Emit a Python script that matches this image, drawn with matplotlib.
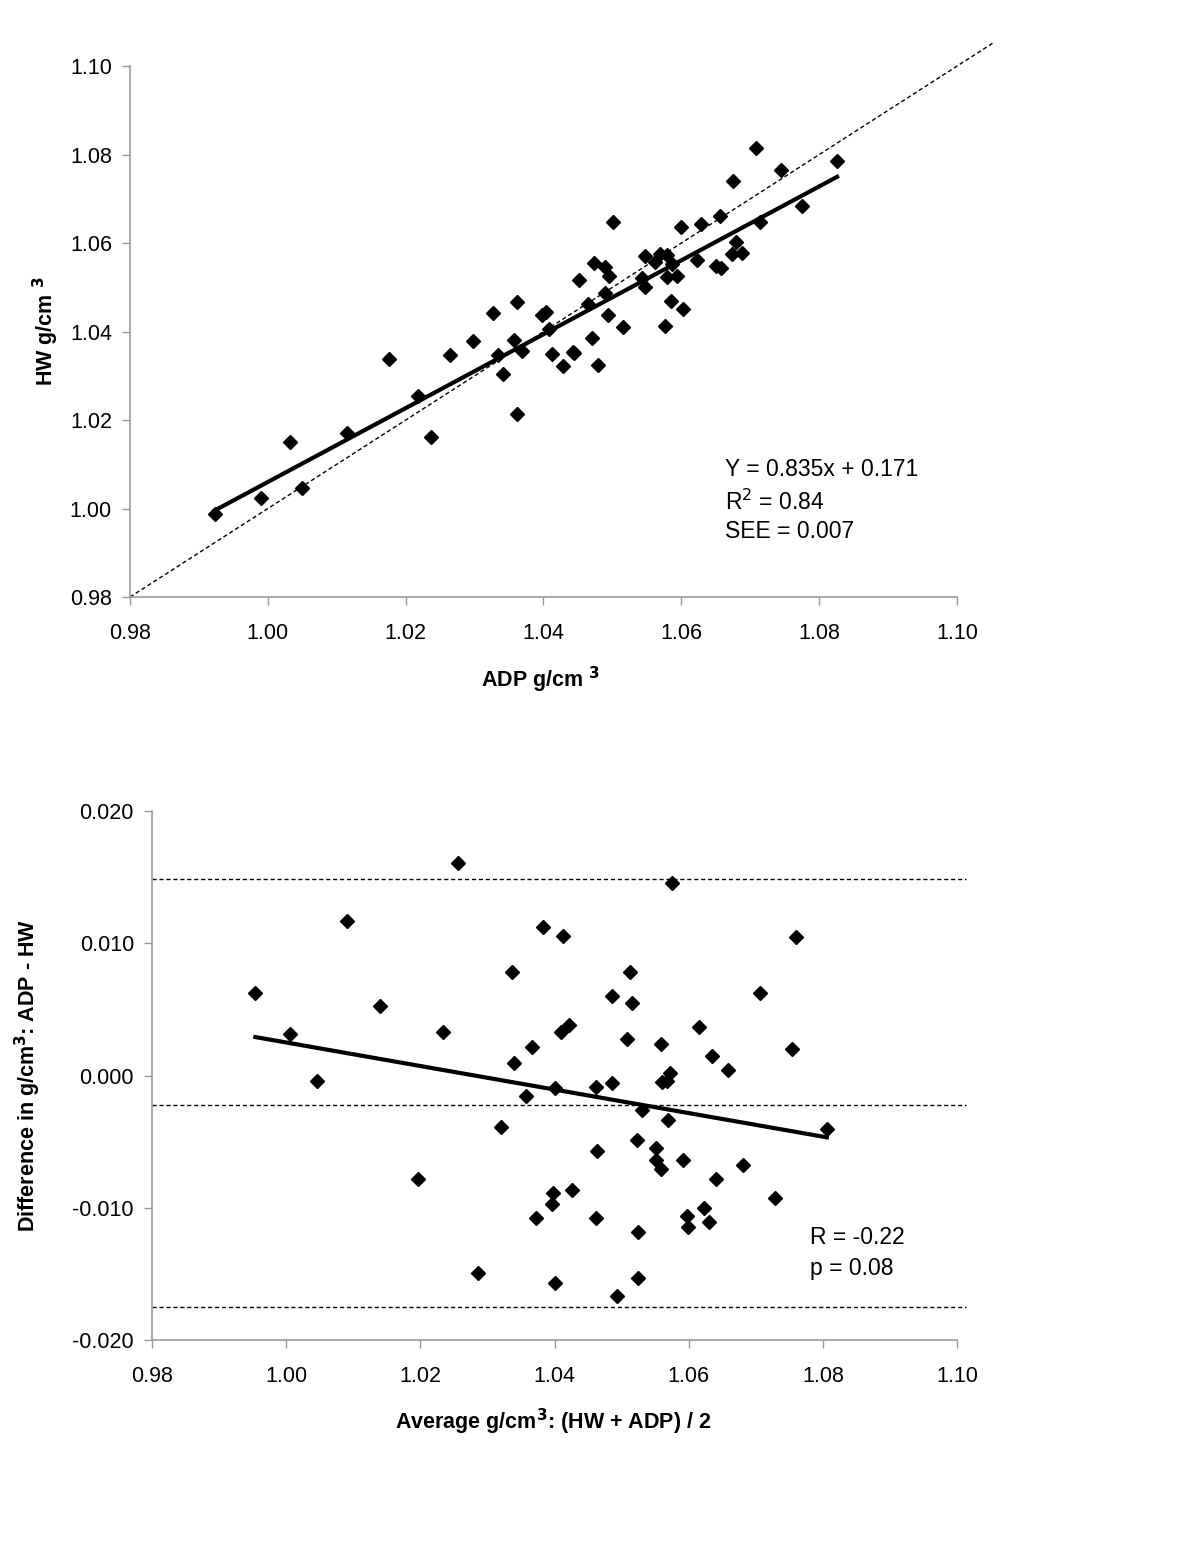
import matplotlib.pyplot as plt

plt.rcParams['font.family'] = ['Liberation Sans', 'DejaVu Sans']

# ---- top panel: HW vs ADP ----
adp = [0.9923, 0.9990, 1.0032, 1.0050, 1.0115, 1.0176, 1.0218, 1.0237, 1.0265, 1.0298,
       1.0327, 1.0334, 1.0341, 1.0362, 1.0357, 1.0369, 1.0362, 1.0398, 1.0404, 1.0408,
       1.0413, 1.0429, 1.0443, 1.0444, 1.0452, 1.0465, 1.0471, 1.0473, 1.0479, 1.0489,
       1.0495, 1.0489, 1.0494, 1.0501, 1.0516, 1.0543, 1.0548, 1.0548, 1.0562, 1.0569,
       1.0579, 1.0587, 1.0579, 1.0594, 1.0577, 1.0585, 1.0603, 1.0600, 1.0623, 1.0629,
       1.0651, 1.0658, 1.0656, 1.0674, 1.0688, 1.0680, 1.0675, 1.0709, 1.0714, 1.0745,
       1.0775, 1.0826]
hw = [0.9988, 1.0024, 1.0150, 1.0046, 1.0171, 1.0338, 1.0254, 1.0162, 1.0347, 1.0379,
      1.0442, 1.0347, 1.0304, 1.0467, 1.0381, 1.0356, 1.0214, 1.0437, 1.0444, 1.0405,
      1.0349, 1.0322, 1.0354, 1.0351, 1.0516, 1.0462, 1.0385, 1.0555, 1.0324, 1.0546,
      1.0525, 1.0487, 1.0437, 1.0648, 1.0410, 1.0521, 1.0571, 1.0501, 1.0557, 1.0575,
      1.0573, 1.0553, 1.0523, 1.0525, 1.0412, 1.0469, 1.0451, 1.0636, 1.0562, 1.0643,
      1.0548, 1.0544, 1.0661, 1.0575, 1.0577, 1.0602, 1.0740, 1.0815, 1.0648, 1.0765,
      1.0684, 1.0785]
fit_slope, fit_icpt = 0.835, 0.171
identity = [0.98, 1.1055]

# ---- bottom panel: Bland-Altman ----
avg = [0.9954, 1.0006, 1.0046, 1.0090, 1.0140, 1.0197, 1.0234, 1.0256, 1.0286, 1.0320,
       1.0337, 1.0339, 1.0358, 1.0367, 1.0372, 1.0383, 1.0396, 1.0398, 1.0401, 1.0401,
       1.0410, 1.0413, 1.0422, 1.0426, 1.0462, 1.0464, 1.0462, 1.0485, 1.0485, 1.0493,
       1.0512, 1.0516, 1.0508, 1.0523, 1.0525, 1.0525, 1.0531, 1.0551, 1.0551, 1.0558,
       1.0559, 1.0560, 1.0567, 1.0572, 1.0569, 1.0575, 1.0591, 1.0598, 1.0599, 1.0616,
       1.0623, 1.0631, 1.0635, 1.0640, 1.0658, 1.0681, 1.0707, 1.0728, 1.0754, 1.0760,
       1.0806]
diff = [0.00625, 0.00315, -0.00043, 0.01167, 0.00524, -0.00779, 0.00333, 0.01608, -0.01495, -0.00391,
        0.00784, 0.00096, -0.00157, 0.00214, -0.01079, 0.01127, -0.00970, -0.00887, -0.00091, -0.01567,
        0.00333, 0.01053, 0.00380, -0.00864, -0.00083, -0.00572, -0.01076, 0.00605, -0.00058, -0.01671,
        0.00784, 0.00547, 0.00274, -0.00486, -0.01180, -0.01530, -0.00257, -0.00547, -0.00635, -0.00705,
        0.00237, -0.00051, -0.00038, 0.00020, -0.00335, 0.01457, -0.00640, -0.01066, -0.01142, 0.00365,
        -0.00998, -0.01109, 0.00144, -0.00786, 0.00043, -0.00680, 0.00622, -0.00928, 0.00197, 0.01046,
        -0.00408]
ba_slope, ba_icpt = -0.089, 0.0915
mean_diff = -0.0022
upper_loa = 0.01486
lower_loa = -0.01749

fig = plt.figure(figsize=(12, 15.52), dpi=100)
ax1 = fig.add_axes([0.1083, 0.6153, 0.6892, 0.3421])
ax2 = fig.add_axes([0.1267, 0.1366, 0.6708, 0.3408])

def style(ax):
    for s in ['top', 'right']:
        ax.spines[s].set_visible(False)
    for s in ['left', 'bottom']:
        ax.spines[s].set_color('#999999')
        ax.spines[s].set_linewidth(1.2)
    ax.tick_params(colors='#999999', labelcolor='black', labelsize=15.5, length=6, width=1)
    ax.tick_params(axis='x', pad=13)
    ax.tick_params(axis='y', pad=7)

# 1. HW vs ADP
ax1.plot(identity, identity, color='black', lw=1, linestyle=(0, (3, 2)), clip_on=False)
xs = [min(adp), max(adp)]
ax1.plot(xs, [fit_slope * x + fit_icpt for x in xs], color='black', lw=3)
ax1.plot(adp, hw, 'D', color='black', markersize=7.5)
ax1.set_xlim(0.98, 1.10)
ax1.set_ylim(0.98, 1.10)
ax1.set_xticks([0.98, 1.00, 1.02, 1.04, 1.06, 1.08, 1.10])
ax1.set_yticks([0.98, 1.00, 1.02, 1.04, 1.06, 1.08, 1.10])
ax1.set_xticklabels(['0.98', '1.00', '1.02', '1.04', '1.06', '1.08', '1.10'])
ax1.set_yticklabels(['0.98', '1.00', '1.02', '1.04', '1.06', '1.08', '1.10'])
style(ax1)
ax1.set_xlabel('ADP g/cm $^{\\mathbf{3}}$', fontsize=15.5, fontweight='bold')
ax1.set_ylabel('HW g/cm $^{\\mathbf{3}}$', fontsize=15.5, fontweight='bold')
ax1.xaxis.set_label_coords(0.496, -0.128)
ax1.yaxis.set_label_coords(-0.083, 0.5)
fig.text(725 / 1200, 1 - 470 / 1552, 'Y = 0.835x + 0.171', fontsize=16.5, va='center')
fig.text(725 / 1200, 1 - 502 / 1552, 'R$^2$ = 0.84', fontsize=16.5, va='center')
fig.text(725 / 1200, 1 - 531 / 1552, 'SEE = 0.007', fontsize=16.5, va='center')

# 2. Bland-Altman
for lvl in [upper_loa, mean_diff, lower_loa]:
    ax2.plot([0.98, 1.1013], [lvl, lvl], color='black', lw=1, linestyle=(0, (3, 2)), clip_on=False)
xs = [min(avg), max(avg)]
ax2.plot(xs, [ba_slope * x + ba_icpt for x in xs], color='black', lw=3)
ax2.plot(avg, diff, 'D', color='black', markersize=7.5)
ax2.set_xlim(0.98, 1.10)
ax2.set_ylim(-0.020, 0.020)
ax2.set_xticks([0.98, 1.00, 1.02, 1.04, 1.06, 1.08, 1.10])
ax2.set_xticklabels(['0.98', '1.00', '1.02', '1.04', '1.06', '1.08', '1.10'])
ax2.set_yticks([-0.020, -0.010, 0.0, 0.010, 0.020])
ax2.set_yticklabels(['-0.020', '-0.010', '0.000', '0.010', '0.020'])
style(ax2)
ax2.set_xlabel('Average g/cm$^{\\mathbf{3}}$: (HW + ADP) / 2', fontsize=15.5, fontweight='bold')
ax2.set_ylabel('Difference in g/cm$^{\\mathbf{3}}$: ADP - HW', fontsize=15.5, fontweight='bold')
ax2.xaxis.set_label_coords(0.498, -0.127)
ax2.yaxis.set_label_coords(-0.136, 0.5)
fig.text(810 / 1200, 1 - 1238 / 1552, 'R = -0.22', fontsize=16.5, va='center')
fig.text(810 / 1200, 1 - 1268 / 1552, 'p = 0.08', fontsize=16.5, va='center')

fig.savefig('out.png', dpi=100, facecolor='white')
